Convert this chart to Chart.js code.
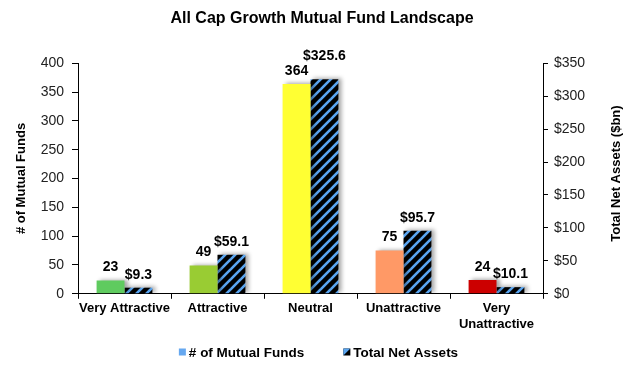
<!DOCTYPE html>
<html><head><meta charset="utf-8">
<script src="https://cdn.jsdelivr.net/npm/chart.js@4"></script>
<style>html,body{margin:0;padding:0;background:#fff}#wrap{width:630px;height:368px}</style>
</head><body><div id="wrap"><canvas id="c" width="630" height="368"></canvas></div>
<script>
const categories = ['Very Attractive', 'Attractive', 'Neutral', 'Unattractive', ['Very', 'Unattractive']];
const fundCounts = [23, 49, 364, 75, 24];
const netAssets = [9.3, 59.1, 325.6, 95.7, 10.1];
const fundLabels = ['23', '49', '364', '75', '24'];
const assetLabels = ['$9.3', '$59.1', '$325.6', '$95.7', '$10.1'];
const leftTicks = [0, 50, 100, 150, 200, 250, 300, 350, 400];
const rightTicks = [0, 50, 100, 150, 200, 250, 300, 350];
const barColors = ['#5FCB5F', '#99CC33', '#FFFF33', '#FF9966', '#CC0000'];
const seriesNames = ['# of Mutual Funds', 'Total Net Assets'];

const FONT = "'Liberation Sans', Arial, sans-serif";
const BLUE = '#5AA5F0';

function makeHatch() {
  const n = 10;
  const c = document.createElement('canvas');
  c.width = n; c.height = n;
  const x = c.getContext('2d');
  x.fillStyle = '#000';
  x.fillRect(0, 0, n, n);
  x.strokeStyle = BLUE;
  x.lineWidth = 2.6;
  for (let o = -n; o <= n; o += n) {
    x.beginPath(); x.moveTo(o - 1, n + 1); x.lineTo(o + n + 1, -1); x.stroke();
  }
  return x.createPattern(c, 'repeat');
}
const hatch = makeHatch();

const decorPlugin = {
  id: 'decorPlugin',
  beforeDatasetsDraw(chart) {
    const ctx = chart.ctx;
    ctx.save();
    ctx.shadowColor = 'rgba(0,0,0,0.35)';
    ctx.shadowBlur = 4;
    ctx.shadowOffsetX = 3;
    ctx.shadowOffsetY = -1;
  },
  afterDatasetsDraw(chart) {
    const ctx = chart.ctx;
    ctx.restore();
    ctx.save();
    ctx.font = 'bold 14px ' + FONT;
    ctx.fillStyle = '#000';
    ctx.textAlign = 'center';
    ctx.textBaseline = 'bottom';
    const h = 14;
    const m0 = chart.getDatasetMeta(0), m1 = chart.getDatasetMeta(1);
    m0.data.forEach((el, i) => {
      const el1 = m1.data[i];
      const t0 = fundLabels[i], t1 = assetLabels[i];
      const w0 = ctx.measureText(t0).width, w1 = ctx.measureText(t1).width;
      let y0 = el.y - 6, y1 = el1.y - 6;
      const overlapX = (el.x + w0 / 2) > (el1.x - w1 / 2);
      if (overlapX && Math.abs(y0 - y1) < h) {
        if (y1 <= y0) y1 = y0 - h - 1; else y0 = y1 - h - 1;
      }
      ctx.fillText(t0, el.x, y0);
      ctx.fillText(t1, el1.x, y1);
    });
    ctx.restore();
  },
  afterDraw(chart) {
    const ctx = chart.ctx;
    const a = chart.chartArea;
    ctx.save();
    ctx.font = 'bold 13px ' + FONT;
    ctx.fillStyle = '#000';
    ctx.textAlign = 'center';
    ctx.textBaseline = 'middle';
    ctx.translate(616, (a.top + a.bottom) / 2 - 5);
    ctx.rotate(-Math.PI / 2);
    ctx.fillText('Total Net Assets ($bn)', 0, 0);
    ctx.restore();

    // legend
    ctx.save();
    ctx.font = 'bold 13.5px ' + FONT;
    ctx.textBaseline = 'middle';
    ctx.textAlign = 'left';
    const box = 7, gapText = 3, gapItem = 39;
    const widths = seriesNames.map(t => box + gapText + ctx.measureText(t).width);
    const total = widths[0] + gapItem + widths[1];
    let x = 318.5 - total / 2;
    const yc = 352;
    seriesNames.forEach((t, i) => {
      if (i === 0) {
        ctx.fillStyle = '#66A8F0';
        ctx.fillRect(x, yc - box / 2, box, box);
      } else {
        ctx.fillStyle = '#000';
        ctx.fillRect(x, yc - box / 2, box, box);
        ctx.fillStyle = BLUE;
        ctx.beginPath();
        ctx.moveTo(x, yc - box / 2);
        ctx.lineTo(x + box, yc - box / 2);
        ctx.lineTo(x, yc + box / 2);
        ctx.closePath();
        ctx.fill();
      }
      ctx.fillStyle = '#000';
      ctx.fillText(t, x + box + gapText, yc + 1);
      x += widths[i] + gapItem;
    });
    ctx.restore();
  }
};

new Chart(document.getElementById('c'), {
  type: 'bar',
  data: {
    labels: categories,
    datasets: [
      { label: seriesNames[0], data: fundCounts, backgroundColor: barColors, yAxisID: 'y',
        categoryPercentage: 0.6, barPercentage: 1.0, borderWidth: 0 },
      { label: seriesNames[1], data: netAssets, backgroundColor: hatch, yAxisID: 'y1',
        categoryPercentage: 0.6, barPercentage: 1.0, borderWidth: 0 }
    ]
  },
  options: {
    responsive: false,
    animation: false,
    layout: { padding: { left: 14, right: 0, top: 0, bottom: 34 } },
    plugins: {
      tooltip: { enabled: false },
      legend: { display: false },
      title: { display: true, text: 'All Cap Growth Mutual Fund Landscape', color: '#000',
        font: { family: FONT, size: 16, weight: 'bold' }, padding: { top: 9, bottom: 35 } }
    },
    scales: {
      x: {
        grid: { display: true, drawOnChartArea: false, drawTicks: true, tickLength: 5, color: '#000', offset: true },
        border: { color: '#000', width: 1 },
        ticks: { color: '#000', font: { family: FONT, size: 13, weight: 'bold' }, padding: 2, maxRotation: 0, autoSkip: false }
      },
      y: {
        position: 'left', min: 0, max: 400,
        afterBuildTicks(s) { s.ticks = leftTicks.map(v => ({ value: v })); },
        ticks: { color: '#222', font: { family: FONT, size: 14 }, padding: 8 },
        grid: { drawOnChartArea: false, tickLength: 6, color: '#000' },
        border: { color: '#000', width: 1 },
        title: { display: true, text: '# of Mutual Funds', color: '#000', font: { family: FONT, size: 13, weight: 'bold' }, padding: { top: 0, bottom: 0 } },
        afterFit(s) { s.width = 64; }
      },
      y1: {
        position: 'right', min: 0, max: 350,
        afterBuildTicks(s) { s.ticks = rightTicks.map(v => ({ value: v })); },
        ticks: { color: '#222', font: { family: FONT, size: 14 }, padding: 6, callback: v => '$' + v },
        grid: { drawOnChartArea: false, tickLength: 5, color: '#000' },
        border: { color: '#000', width: 1 },
        afterFit(s) { s.width = 87; }
      }
    }
  },
  plugins: [decorPlugin]
});
</script>
</body></html>
